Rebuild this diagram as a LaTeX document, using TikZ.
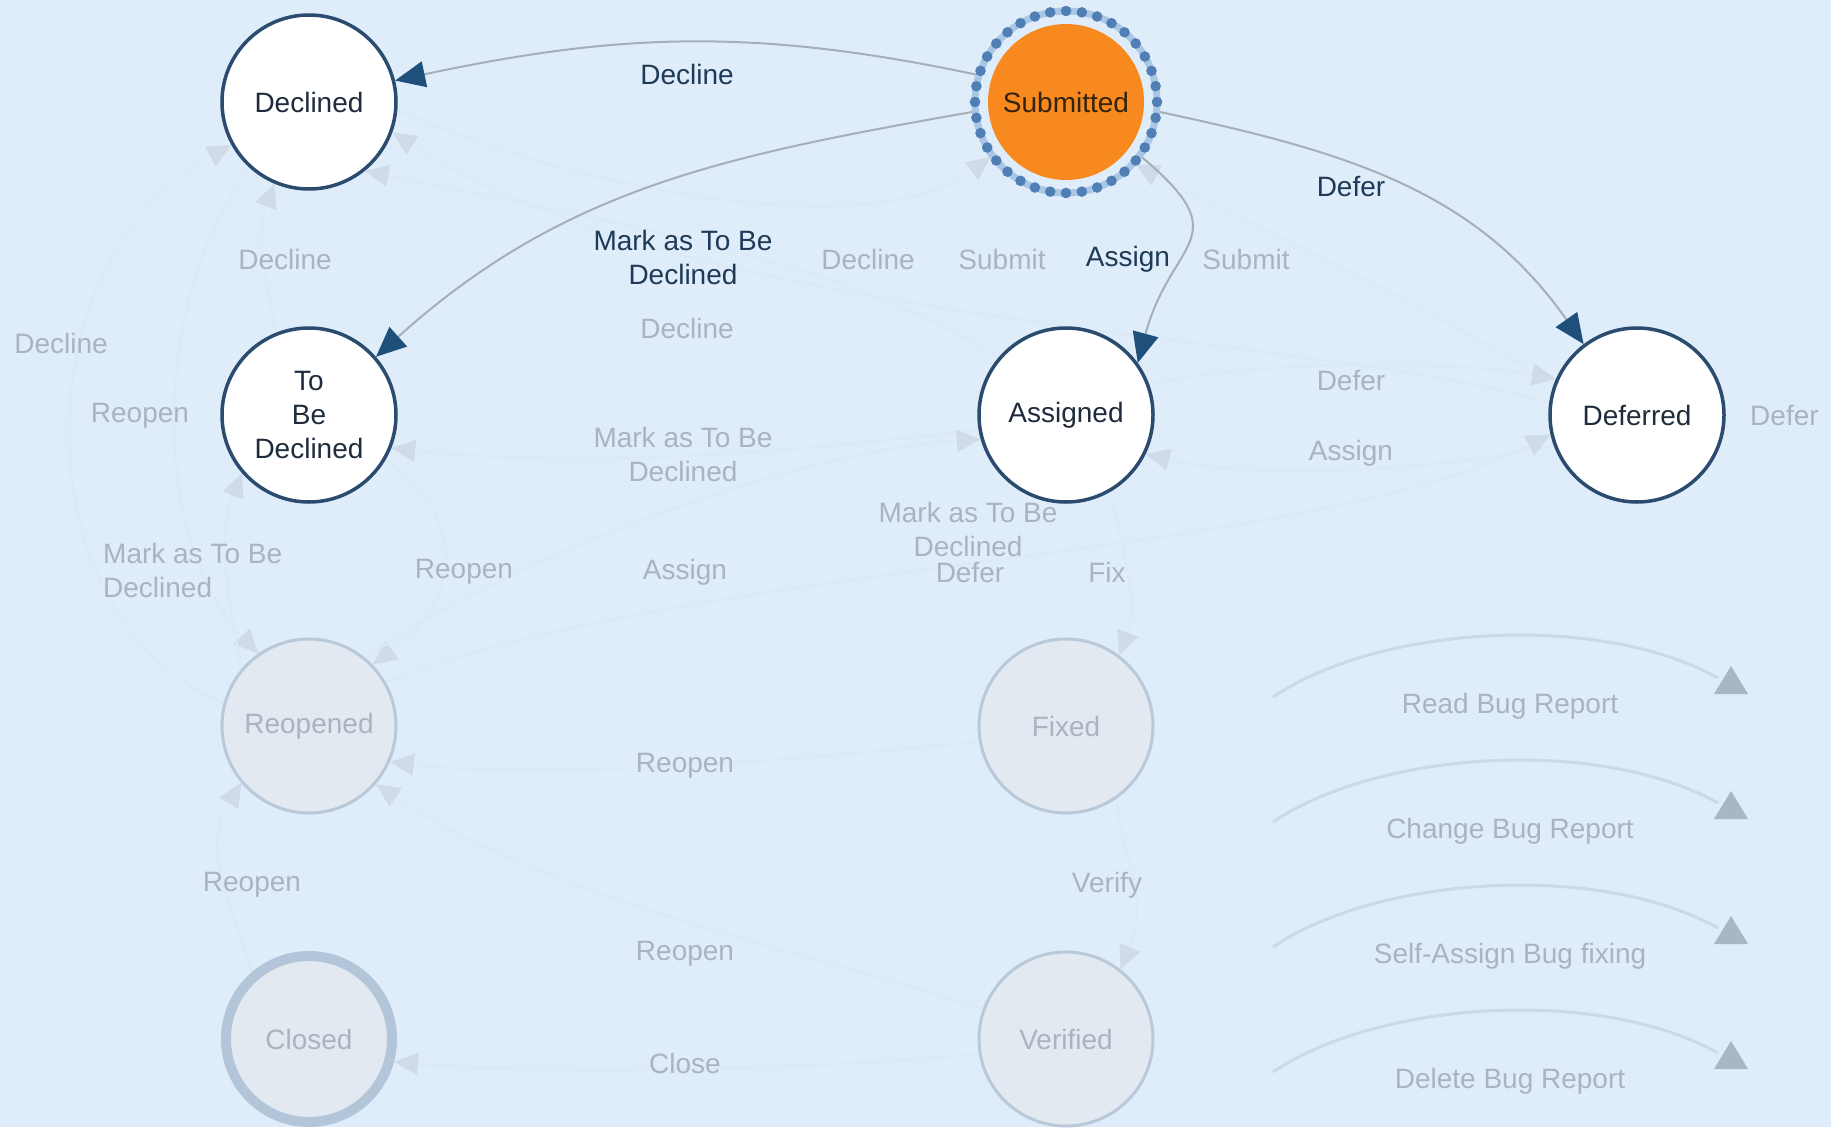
\documentclass[tikz,border=0pt]{standalone}
\usepackage{fontspec}
\setmainfont{Liberation Sans}
\usetikzlibrary{arrows.meta}
\definecolor{bg}{HTML}{DFECF9}
\definecolor{nodeborder}{HTML}{2B4C6F}
\definecolor{nodetext}{HTML}{1E2C3B}
\definecolor{labeldark}{HTML}{1F3A57}
\definecolor{activeline}{HTML}{A5AFBA}
\definecolor{tipblue}{HTML}{1F4F7B}
\definecolor{fadeborder}{HTML}{B9C9D9}
\definecolor{fadefill}{HTML}{E3E9F1}
\definecolor{fadetext}{HTML}{A9B4C0}
\definecolor{fadeline}{HTML}{DCE9F6}
\definecolor{fadetip}{HTML}{CFDBE8}
\definecolor{subfill}{HTML}{F7891F}
\definecolor{ringblue}{HTML}{A9C6E5}
\definecolor{dotblue}{HTML}{4F7FB4}
\definecolor{closedborder}{HTML}{B3C6D9}
\definecolor{legendline}{HTML}{CCDAE8}
\definecolor{legendtip}{HTML}{A8B6C5}
\definecolor{subtext}{HTML}{33240F}
\pgfdeclarelayer{background}
\pgfsetlayers{background,main}
\tikzset{
  state/.style={circle, minimum size=174pt, inner sep=0pt, draw=nodeborder, line width=3.5pt, fill=white, text=nodetext, align=center},
  fstate/.style={circle, minimum size=174pt, inner sep=0pt, draw=fadeborder, line width=3pt, fill=fadefill, text=fadetext, align=center},
  closedstate/.style={fstate, minimum size=166pt, line width=10pt, draw=closedborder},
  substate/.style={circle, minimum size=186pt, inner sep=0pt, text=subtext},
  active/.style={draw=activeline, line width=2pt, -{Triangle[length=30pt,width=26pt,color=tipblue]}},
  faint/.style={draw=fadeline, line width=2pt, -{Triangle[length=24pt,width=22pt,color=fadetip]}},
  lbl/.style={text=labeldark, align=center, inner sep=0pt},
  flbl/.style={text=fadetext, align=center, inner sep=0pt},
  legline/.style={draw=legendline, line width=3pt}
}
\begin{document}
\begin{tikzpicture}[x=1pt,y=-1pt,font=\fontsize{28}{34}\selectfont]
\useasboundingbox (0,0) rectangle (1831,1127);
\begin{pgfonlayer}{background}
\fill[bg] (0,0) rectangle (1831,1127);
\end{pgfonlayer}

% Submitted decoration
\coordinate (subc) at (1066,102);
\fill[subfill] (subc) circle (78pt);
\draw[ringblue, line width=7pt] (subc) circle (91pt);
\foreach \a in {0,10,...,350} \fill[dotblue] (subc) ++(\a:91pt) circle (5.3pt);

% states
\node[state] (dec) at (309,102) {Declined};
\node[substate] (sub) at (subc) {Submitted};
\node[state] (tbd) at (309,415) {To\\Be\\Declined};
\node[state] (asg) at (1066,415) {Assigned};
\node[state] (dfr) at (1637,415) {Deferred};
\node[fstate] (reo) at (309,726) {Reopened};
\node[fstate] (fix) at (1066,726) {Fixed};
\node[closedstate] (clo) at (309,1039) {Closed};
\node[fstate] (ver) at (1066,1039) {Verified};

\begin{pgfonlayer}{background}
% faint transitions
\draw[faint] (tbd.112) to[out=100, in=250] (dec.247);
\draw[faint] (reo.165) .. controls (20,620) and (20,260) .. (dec.209);
\draw[faint] (dec.228) .. controls (150,300) and (150,540) .. (reo.125);
\draw[faint] (reo.140) .. controls (230,600) and (215,540) .. (tbd.221);
\draw[faint] (tbd.-30) .. controls (470,520) and (460,600) .. (reo.44);
\draw[faint] (asg.140) .. controls (850,260) and (600,220) .. (dec.-51);
\draw[faint] (dec.-5) .. controls (600,200) and (880,240) .. (sub.216);
\draw[faint] (dfr.160) .. controls (1420,300) and (1260,230) .. (sub.-42);
\draw[faint] (dfr.172) .. controls (1300,330) and (700,330) .. (dec.-20);
\draw[faint] (asg.190) .. controls (800,450) and (600,470) .. (tbd.-22);
\draw[faint] (asg.20) .. controls (1250,360) and (1450,360) .. (dfr.156);
\draw[faint] (dfr.200) .. controls (1450,470) and (1250,480) .. (asg.-26);
\draw[faint] (reo.30) .. controls (700,560) and (1300,560) .. (dfr.193);
\draw[faint] (asg.-60) .. controls (1120,540) and (1140,600) .. (fix.53);
\draw[faint] (reo.50) .. controls (500,560) and (800,450) .. (asg.196);
\draw[faint] (fix.190) .. controls (800,760) and (550,780) .. (reo.-24);
\draw[faint] (clo.130) .. controls (230,900) and (200,850) .. (reo.220);
\draw[faint] (fix.-55) .. controls (1120,850) and (1150,900) .. (ver.52);
\draw[faint] (ver.160) .. controls (800,950) and (550,900) .. (reo.-41);
\draw[faint] (ver.190) .. controls (800,1070) and (550,1075) .. (clo.-15);
% active transitions
\draw[active] (sub.163) to[out=168, in=12] (dec.14);
\draw[active] (sub.186) to[out=190, in=42] (tbd.41);
\draw[active] (sub.-36) to[out=-40, in=75, looseness=1.6] (asg.36);
\draw[active] (sub.-6) to[out=-12, in=125] (dfr.127);
\end{pgfonlayer}

% active labels
\node[lbl] (l1) at (687,74) {Decline};
\node[lbl] (l2) at (683,257) {Mark as To Be\\Declined};
\node[lbl] (l3) at (1128,259) {Assign};
\node[lbl] (l4) at (1351,187) {Defer};

% faint labels
\node[flbl] (f1) at (285,259) {Decline};
\node[flbl] (f2) at (61,343) {Decline};
\node[flbl] (f3) at (140,416) {Reopen};
\node[flbl, align=left, anchor=west] (f4) at (103,570) {Mark as To Be\\Declined};
\node[flbl] (f5) at (464,572) {Reopen};
\node[flbl] (f6) at (868,259) {Decline};
\node[flbl] (f7) at (1002,259) {Submit};
\node[flbl] (f8) at (1246,259) {Submit};
\node[flbl] (f9) at (687,328) {Decline};
\node[flbl] (f10) at (683,454) {Mark as To Be\\Declined};
\node[flbl] (f11) at (1351,381) {Defer};
\node[flbl] (f12) at (1351,453) {Assign};
\node[flbl, anchor=west] (f13) at (1750,416) {Defer};
\node[flbl] (f14) at (968,529) {Mark as To Be\\Declined};
\node[flbl] (f15) at (970,572) {Defer};
\node[flbl] (f16) at (1107,572) {Fix};
\node[flbl] (f17) at (685,572) {Assign};
\node[flbl] (f18) at (685,766) {Reopen};
\node[flbl] (f19) at (252,885) {Reopen};
\node[flbl] (f20) at (1107,885) {Verify};
\node[flbl] (f21) at (685,954) {Reopen};
\node[flbl] (f22) at (685,1063) {Close};

% legend
\foreach \i/\t in {0/Read Bug Report,1/Change Bug Report,2/Self-Assign Bug fixing,3/Delete Bug Report}{
  \coordinate (ls\i) at (1273,697+125*\i);
  \coordinate (le\i) at (1718,678+125*\i);
  \draw[legline] (ls\i) .. controls (1380,625+125*\i) and (1600,612+125*\i) .. (le\i);
  \fill[legendtip] (1731,666+125*\i) -- (1748,694+125*\i) -- (1714,694+125*\i) -- cycle;
  \node[flbl] (lg\i) at (1510,706+125*\i) {\t};
}
\end{tikzpicture}
\end{document}
